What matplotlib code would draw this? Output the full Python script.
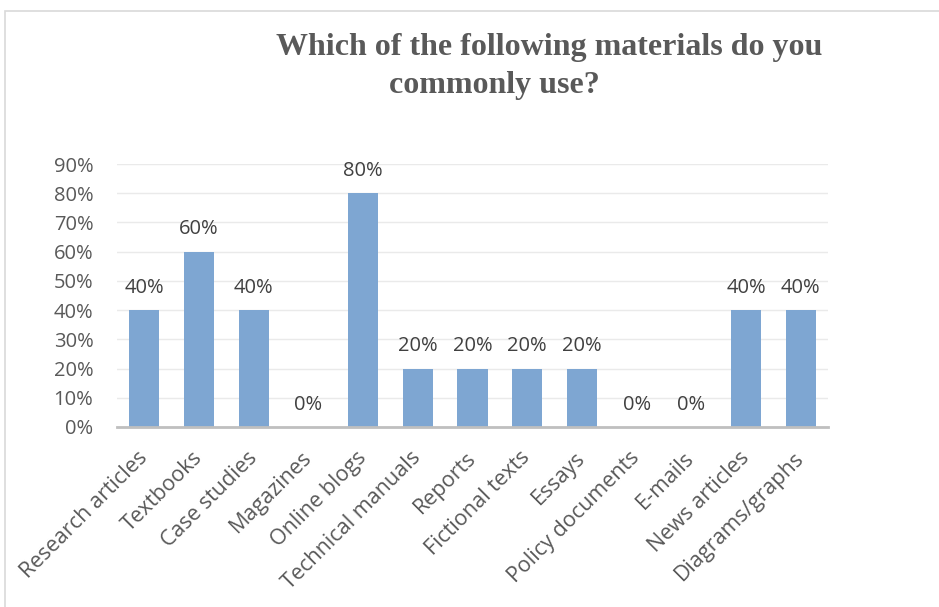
import matplotlib.pyplot as plt
import matplotlib.patches as patches
import numpy as np

# data
categories = ["Research articles", "Textbooks", "Case studies", "Magazines",
              "Online blogs", "Technical manuals", "Reports", "Fictional texts",
              "Essays", "Policy documents", "E-mails", "News articles",
              "Diagrams/graphs"]
values = [0.40, 0.60, 0.40, 0.00, 0.80, 0.20, 0.20, 0.20, 0.20, 0.00, 0.00, 0.40, 0.40]
yticks = [0.0, 0.1, 0.2, 0.3, 0.4, 0.5, 0.6, 0.7, 0.8, 0.9]

W, H = 939, 607
fig = plt.figure(figsize=(W / 100, H / 100), dpi=100)
fig.patch.set_facecolor("white")

# chart border (cropped on right/bottom)
fig.patches.append(patches.Rectangle((5 / W, -0.05), 1.2, (H - 11) / H + 0.05,
                                     transform=fig.transFigure, fill=False,
                                     edgecolor="#D9D9D9", linewidth=1.2))

ax = fig.add_axes([117 / W, (H - 427) / H, 711 / W, (427 - 164) / H])

x = np.arange(len(categories))
ax.bar(x, values, width=0.55, color="#7EA6D2", zorder=3)

ax.set_xlim(-0.5, len(categories) - 0.5)
ax.set_ylim(0, 0.9)
ax.set_yticks(yticks)
ax.set_yticklabels([f"{int(round(v * 100))}%" for v in yticks],
                   fontsize=14.5, color="#595959", family="Open Sans")
ax.grid(axis="y", color="#EAEAEA", linewidth=1, zorder=0)
ax.tick_params(axis="y", length=0, pad=17)
ax.tick_params(axis="x", length=0, pad=20)

for s in ["top", "right", "left"]:
    ax.spines[s].set_visible(False)
ax.spines["bottom"].set_color("#BFBFBF")
ax.spines["bottom"].set_linewidth(2)
ax.spines["bottom"].set_zorder(4)

ax.set_xticks(x)
ax.set_xticklabels(categories, rotation=45, ha="right", va="center",
                   rotation_mode="anchor", fontsize=15.5, color="#595959",
                   family="Open Sans")

# value labels
for xi, v in zip(x, values):
    ax.annotate(f"{int(round(v * 100))}%", (xi, v), xytext=(0, 9),
                textcoords="offset points", ha="center", va="bottom",
                fontsize=14.5, color="#404040", family="Open Sans")

# title
fig.text(549 / W, (H - 47) / H, "Which of the following materials do you",
         ha="center", va="center", fontsize=23, fontweight="bold",
         color="#595959", family="Liberation Serif")
fig.text(494 / W, (H - 85) / H, "commonly use?",
         ha="center", va="center", fontsize=23, fontweight="bold",
         color="#595959", family="Liberation Serif")

fig.savefig("out.png", dpi=100)
